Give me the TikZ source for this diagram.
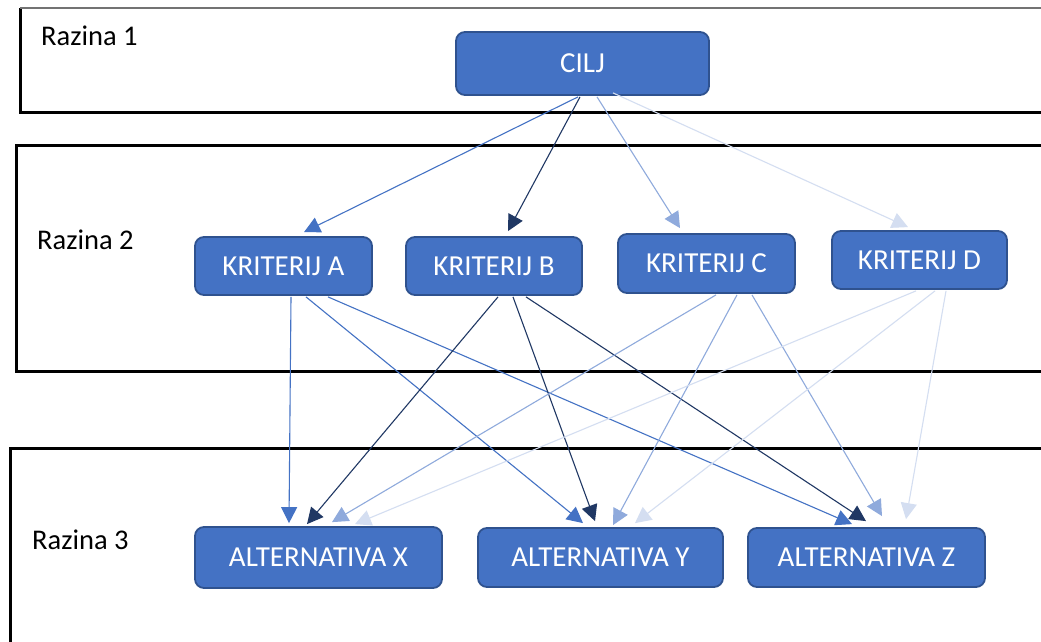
\documentclass[tikz,border=0pt]{standalone}
\usepackage{fontspec}
\setmainfont{Carlito}
\usetikzlibrary{arrows.meta,calc}
\definecolor{boxfill}{HTML}{4472C4}
\definecolor{boxline}{HTML}{2F528F}
\definecolor{cmed}{HTML}{4472C4}
\definecolor{cdark}{HTML}{203864}
\definecolor{clight}{HTML}{8FAADC}
\definecolor{cvlight}{HTML}{D4DEF1}
\tikzset{
  box/.style={draw=boxline, line width=1.8pt, fill=boxfill, rounded corners=9pt,
    text=white, font=\fontsize{29}{34}\selectfont, inner sep=0pt},
  lvl/.style={font=\fontsize{28.5}{34}\selectfont, anchor=base west, inner sep=0pt},
  frame/.style={line width=3pt, draw=black},
  conn/.style={line width=1.1pt, -{Triangle[length=16pt,width=16pt]}},
}
\begin{document}
\begin{tikzpicture}[x=1pt,y=-1pt]
\clip (0,0) rectangle (1041,642);
\fill[white] (0,0) rectangle (1041,642);
% level frames
\draw[frame] (1060,112) -- (20,112) -- (20,8);
\draw[line width=1.4pt, draw=black!55] (20,8) -- (1060,8);
\draw[frame] (1060,145) -- (16,145) -- (16,371) -- (1060,371);
\draw[frame] (1060,448) -- (10,448) -- (10,660);
% labels
\node[lvl] (r1) at (41,46) {Razina 1};
\node[lvl] (r2) at (37,249) {Razina 2};
\node[lvl] (r3) at (32,549) {Razina 3};
% nodes
\node[box, minimum width=253pt, minimum height=63pt] (cilj) at (582.5,63.5) {CILJ};
\node[box, minimum width=177pt, minimum height=58pt] (ka) at (283.5,266) {KRITERIJ A};
\node[box, minimum width=176pt, minimum height=58pt] (kb) at (494,266) {KRITERIJ B};
\node[box, minimum width=177pt, minimum height=59pt] (kc) at (706.5,263.5) {KRITERIJ C};
\node[box, minimum width=175pt, minimum height=58pt] (kd) at (919.5,260) {KRITERIJ D};
\node[box, minimum width=247pt, minimum height=61pt] (ax) at (318.5,557.5) {ALTERNATIVA X};
\node[box, minimum width=245pt, minimum height=59pt] (ay) at (600.5,557.5) {ALTERNATIVA Y};
\node[box, minimum width=237pt, minimum height=59pt] (az) at (866.5,557.5) {ALTERNATIVA Z};
% CILJ -> criteria
\draw[conn, cmed]    ($(cilj.south)+(-4.5,1)$) -- ($(ka.north)+(20.5,-4)$);
\draw[conn, cdark]   ($(cilj.south)+(-2.5,1)$) -- ($(kb.north)+(14,-5)$);
\draw[conn, clight]  ($(cilj.south)+(14.5,1)$) -- ($(kc.north)+(-26.5,-5)$);
\draw[conn, cvlight] ($(cilj.south)+(30.5,-3)$) -- ($(kd.north)+(-11.5,-3)$);
% A
\draw[conn, cmed] ($(ka.south)+(7.5,1)$)  -- ($(ax.north)+(-29.5,-3)$);
\draw[conn, cmed] ($(ka.south)+(22.5,1)$) -- ($(ay.north)+(-17.5,-4)$);
\draw[conn, cmed] ($(ka.south)+(44.5,1)$) -- ($(az.north)+(-14.5,-3)$);
% B
\draw[conn, cdark] ($(kb.south)+(4,1)$)  -- ($(ax.north)+(-11.5,-2)$);
\draw[conn, cdark] ($(kb.south)+(19,1)$) -- ($(ay.north)+(-5.5,-6)$);
\draw[conn, cdark] ($(kb.south)+(32,1)$) -- ($(az.north)+(-0.5,-6)$);
% C
\draw[conn, clight] ($(kc.south)+(9.5,1)$)  -- ($(ax.north)+(13.5,-4)$);
\draw[conn, clight] ($(kc.south)+(30.5,1)$) -- ($(ay.north)+(12.5,-2)$);
\draw[conn, clight] ($(kc.south)+(45.5,1)$) -- ($(az.north)+(15.5,-11)$);
% D
\draw[conn, cvlight] ($(kd.south)+(-3.5,1)$) -- ($(ax.north)+(36.5,-2)$);
\draw[conn, cvlight] ($(kd.south)+(15.5,1)$) -- ($(ay.north)+(34.5,-4)$);
\draw[conn, cvlight] ($(kd.south)+(26.5,1)$) -- ($(az.north)+(39.5,-8)$);
\end{tikzpicture}
\end{document}
